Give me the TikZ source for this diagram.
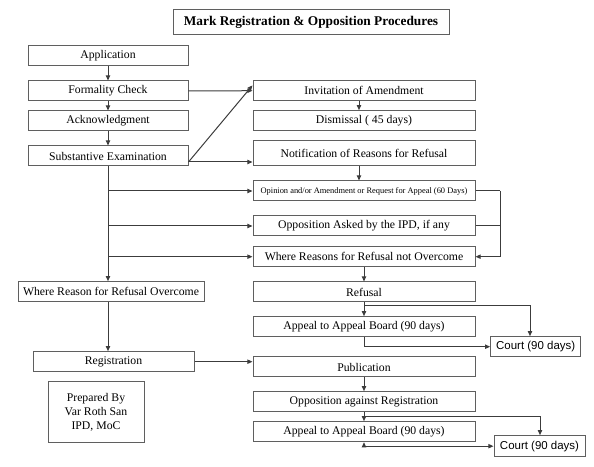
\documentclass[tikz,border=0pt]{standalone}
\usepackage{fontspec}
\setmainfont{Liberation Serif}
\newfontfamily\courtfont{Liberation Sans}
\usetikzlibrary{arrows.meta}
\definecolor{boxgray}{RGB}{95,95,95}
\definecolor{wiregray}{RGB}{60,60,60}
\tikzset{
  box/.style={draw=boxgray, line width=0.75, inner sep=0pt, align=center,
    minimum height=15pt, font=\fontsize{8.8}{10.6}\selectfont},
  leftbox/.style={box, minimum width=120pt},
  rightbox/.style={box, minimum width=166.5pt},
  courtbox/.style={box, minimum width=67.5pt, font=\courtfont\fontsize{8.6}{10}\selectfont},
  wire/.style={draw=wiregray, line width=0.75},
  conn/.style={wire, -{Triangle[length=3.8pt,width=3.2pt]}},
}
\begin{document}
\begin{tikzpicture}[x=0.75pt,y=0.75pt,yscale=-1,xscale=1]
\useasboundingbox (0,0) rectangle (594,467);
% Title
\node[box, minimum width=207pt, minimum height=18.75pt, font=\bfseries\fontsize{10}{12}\selectfont] (title) at (311,22.5) {Mark Registration \& Opposition Procedures};
% Left column
\node[leftbox] (app) at (108,56) {Application};
\node[leftbox] (form) at (108,91) {Formality Check};
\node[leftbox] (ack) at (108,121) {Acknowledgment};
\node[leftbox] (subst) at (108,156) {Substantive Examination};
\node[box, minimum width=139.5pt] (wover) at (111,291.7) {Where Reason for Refusal Overcome};
\node[box, minimum width=120.75pt] (reg) at (113.5,361.7) {Registration};
\node[box, minimum width=72pt, minimum height=45.5pt] (prep) at (96,412) {Prepared By\\Var Roth San\\IPD, MoC};
% Right column
\node[rightbox] (inv) at (364,90.7) {Invitation of Amendment};
\node[rightbox] (dism) at (364,120.7) {Dismissal ( 45 days)};
\node[rightbox, minimum height=19pt] (notif) at (364,153.3) {Notification of Reasons for Refusal};
\node[rightbox, font=\fontsize{6.3}{7.5}\selectfont] (opin) at (364,191) {Opinion and/or Amendment or Request for Appeal (60 Days)};
\node[rightbox] (oppask) at (364,226) {Opposition Asked by the IPD, if any};
\node[rightbox] (wnot) at (364,256.7) {Where Reasons for Refusal not Overcome};
\node[rightbox] (ref) at (364,292) {Refusal};
\node[rightbox] (appeal1) at (364,326.7) {Appeal to Appeal Board (90 days)};
\node[rightbox] (pub) at (364,367) {Publication};
\node[rightbox] (oppreg) at (364,401.7) {Opposition against Registration};
\node[rightbox] (appeal2) at (364,431.7) {Appeal to Appeal Board (90 days)};
% Courts
\node[courtbox] (court1) at (535.7,346.7) {Court (90 days)};
\node[courtbox, minimum width=68.25pt, minimum height=15.75pt] (court2) at (539.5,446.2) {Court (90 days)};
% Helper coordinates
\coordinate (brk) at (500,0);
\coordinate (c1) at (530,306);
\coordinate (c2) at (540,416.7);
% Left column arrows
\draw[conn] (app) -- (form);
\draw[conn] (form) -- (ack);
\draw[conn] (ack) -- (subst);
\draw[conn] (form.east) -- (inv.west);
\draw[conn] ([yshift=4.5pt]subst.east) -- ([yshift=-4pt]inv.west);
\draw[conn] ([yshift=4.5pt]subst.east) -- ([yshift=4.5pt]subst.east -| notif.west);
\draw[conn] (subst.south) -- (subst.south |- wover.north);
\draw[conn] (subst.south |- wover.south) -- (subst.south |- reg.north);
\draw[conn] (subst.south |- opin.west) -- (opin.west);
\draw[conn] (subst.south |- oppask.west) -- (oppask.west);
\draw[conn] (subst.south |- wnot.west) -- (wnot.west);
\draw[conn] (reg.east) -- (reg.east -| pub.west);
% Right column arrows
\draw[conn] ([xshift=-3.75pt]inv.south) -- ([xshift=-3.75pt]dism.north);
\draw[conn] ([xshift=-3.75pt]notif.south) -- ([xshift=-3.75pt]opin.north);
\draw[wire] (opin.east) -- (opin.east -| brk);
\draw[wire] (oppask.east) -- (oppask.east -| brk);
\draw[conn] (opin.east -| brk) |- (wnot.east);
\draw[conn] (wnot) -- (ref);
\draw[conn] (ref) -- (appeal1);
\draw[conn] (ref.south |- c1) -| (c1 |- court1.north);
\draw[conn] (appeal1.south) |- (court1.west);
\draw[conn] (pub) -- (oppreg);
\draw[conn] (oppreg) -- (appeal2);
\draw[conn] (oppreg.south |- c2) -| (c2 |- court2.north);
\draw[conn, {Triangle[length=3.8pt,width=3.2pt]}-{Triangle[length=3.8pt,width=3.2pt]}] (appeal2.south) |- (court2.west);
\end{tikzpicture}
\end{document}
